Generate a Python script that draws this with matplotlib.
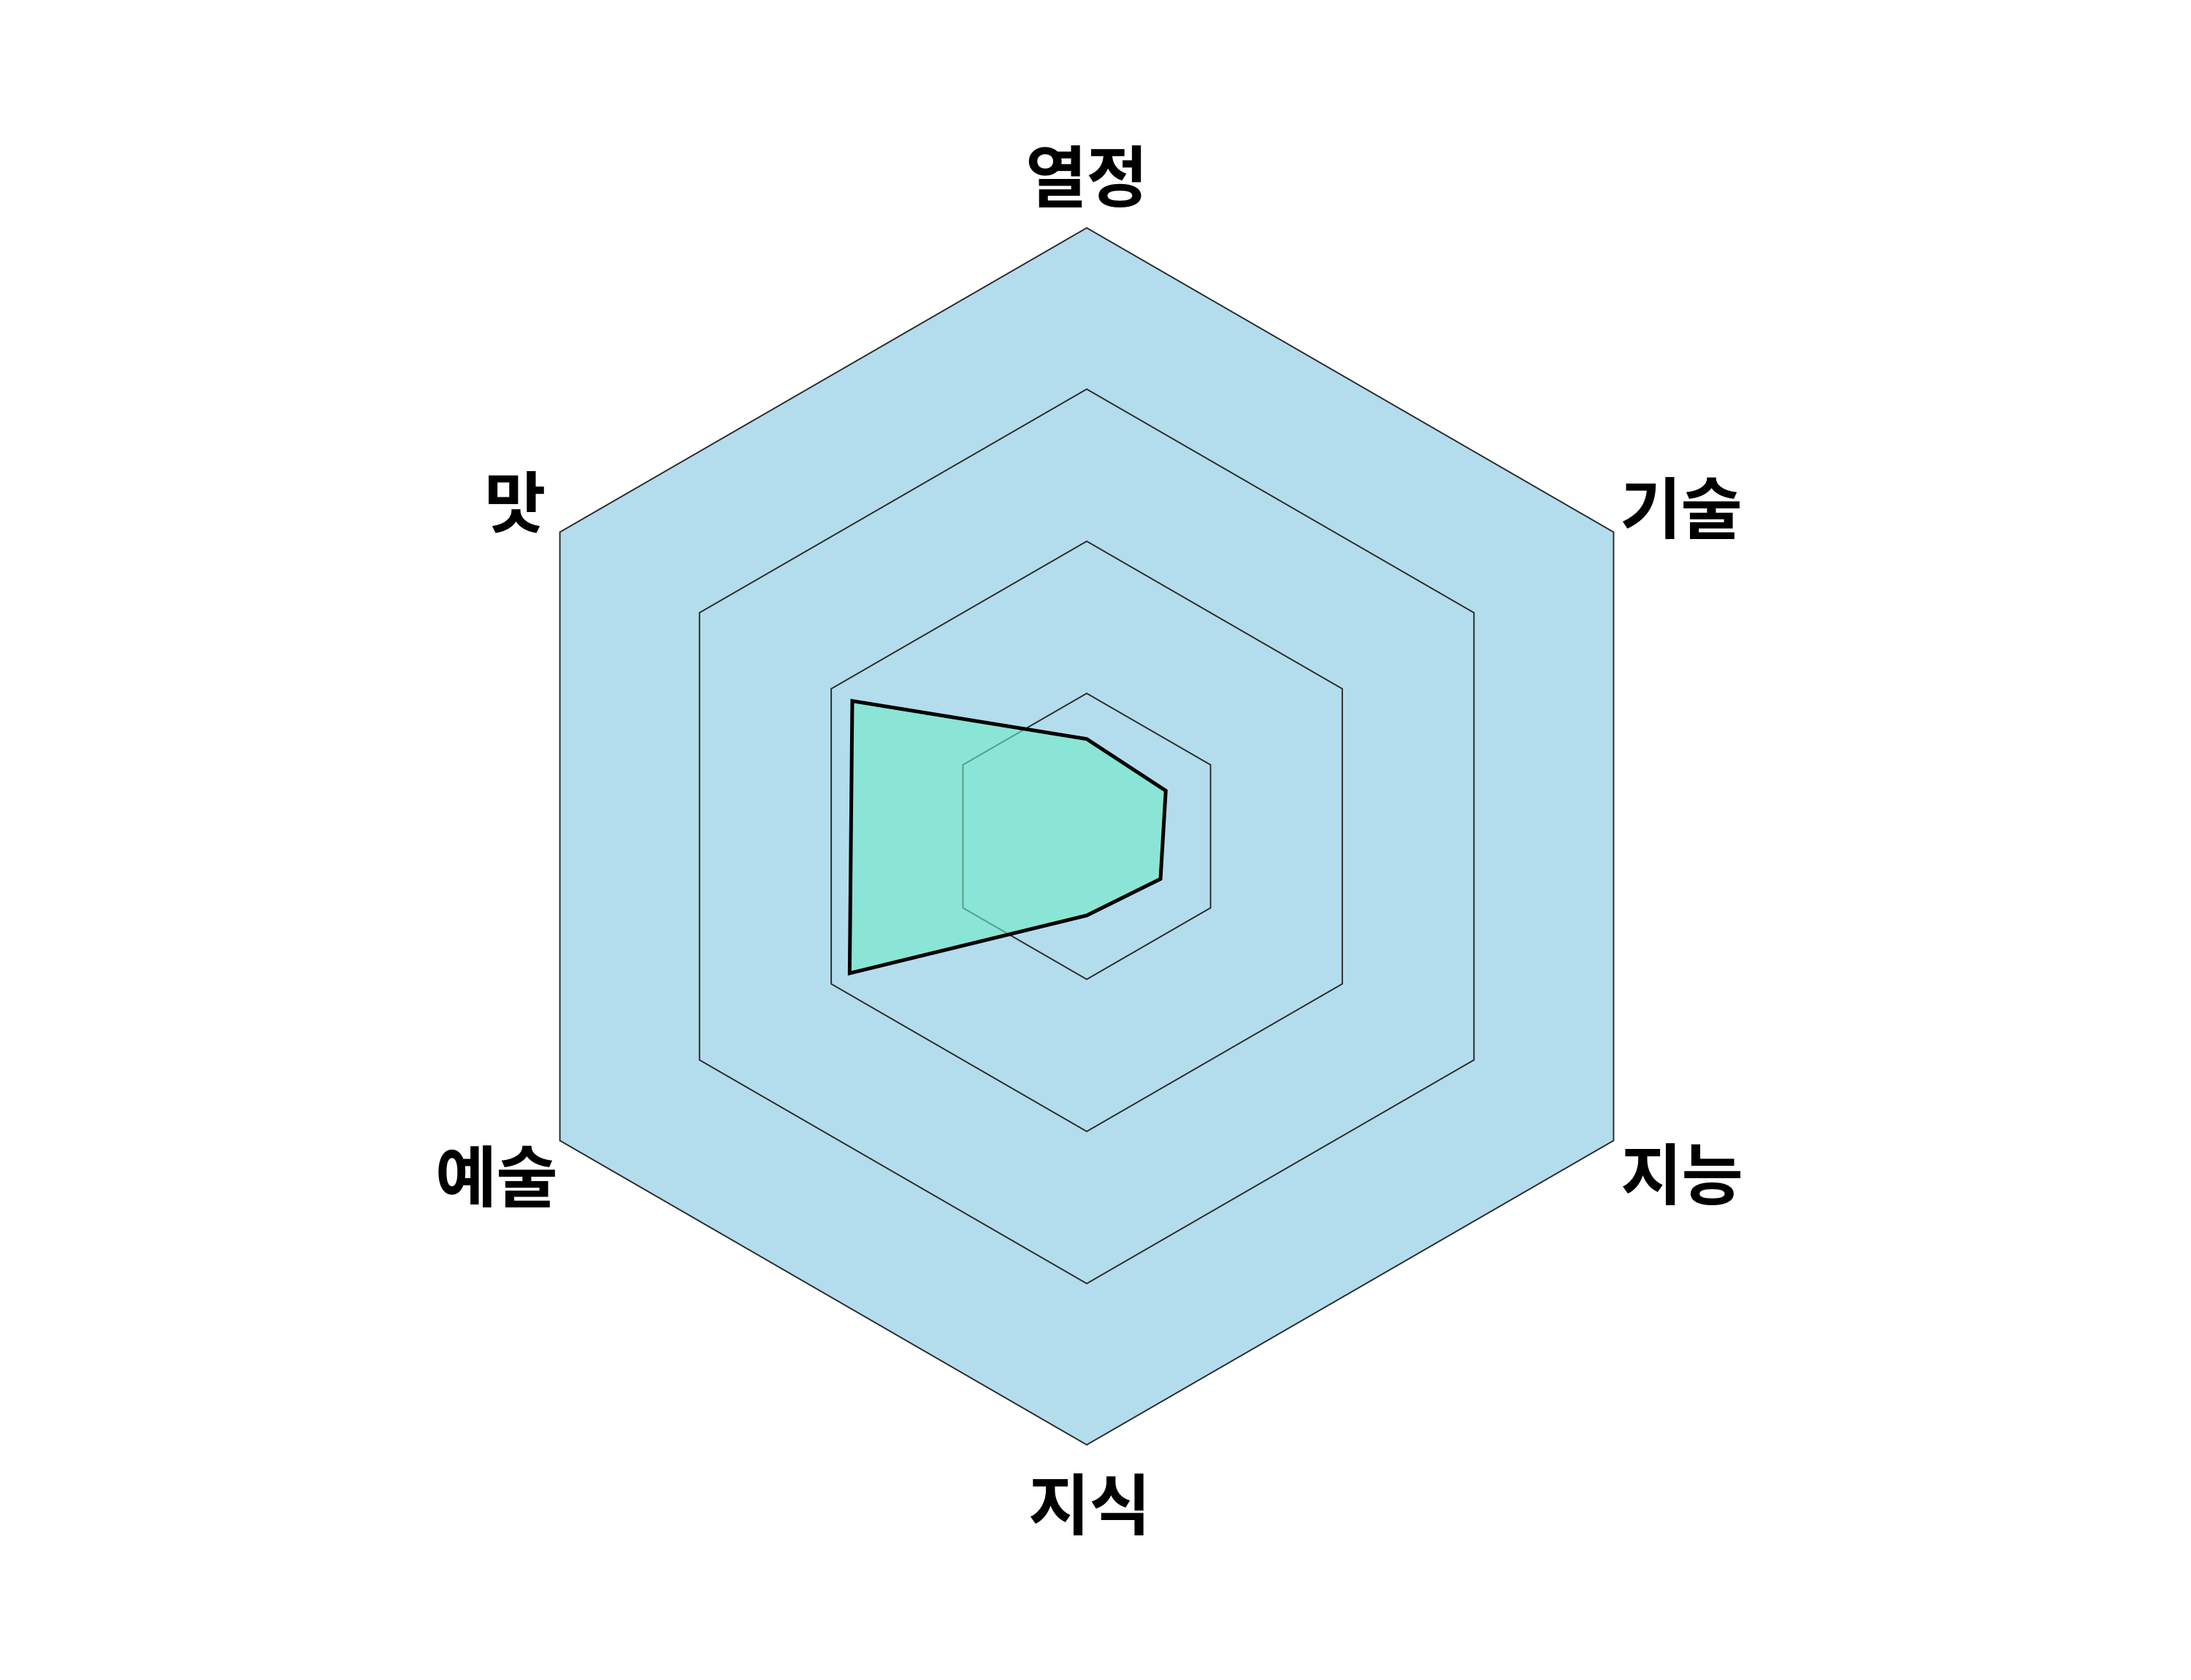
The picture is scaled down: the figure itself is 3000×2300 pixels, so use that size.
import numpy as np
import matplotlib.pyplot as plt
from matplotlib.patches import Polygon

# Radar data (clockwise from the top)
categories = ['열정', '기술', '지능', '지식', '예술', '맛']
values = [16, 15, 14, 13, 45, 44.5]
grid_levels = [23.5, 48.5, 73.5, 100]
max_value = 100

plt.rcParams['font.family'] = ['Noto Sans CJK KR', 'DejaVu Sans']

angles = np.arange(len(categories)) * 2 * np.pi / len(categories)


def hexagon(radii):
    r = np.asarray(radii, dtype=float)
    return np.column_stack([r * np.sin(angles), r * np.cos(angles)])


fig = plt.figure(figsize=(15, 11.5), dpi=200)
ax = fig.add_axes([0, 0, 1, 1])

# outer ring ~833 px, chart centre at (1488, 1145) px from top-left
scale = 833 / max_value
ax.set_xlim(-1488 / scale, (3000 - 1488) / scale)
ax.set_ylim(-(2300 - 1145) / scale, 1145 / scale)
ax.set_aspect('equal')
ax.axis('off')

# background + grid rings
ax.add_patch(Polygon(hexagon([max_value] * len(categories)), closed=True,
                     facecolor='#B3DDED', edgecolor='none', zorder=0))
for lvl in grid_levels:
    ax.add_patch(Polygon(hexagon([lvl] * len(categories)), closed=True,
                         facecolor='none', edgecolor='#2b2b2b', linewidth=0.7, zorder=1))

# data polygon
ax.add_patch(Polygon(hexagon(values), closed=True,
                     facecolor='#70ECC8', alpha=0.6, edgecolor='none', zorder=2))
ax.add_patch(Polygon(hexagon(values), closed=True,
                     facecolor='none', edgecolor='black', linewidth=1.8, zorder=3))

# axis labels
label_style = {
    '열정': (0, 63, 'center'),
    '기술': (8, 26, 'left'),
    '지능': (9, -54, 'left'),
    '지식': (3, -89, 'center'),
    '예술': (-2, -56, 'right'),
    '맛': (-19, 34, 'right'),
}
outer = hexagon([max_value] * len(categories))
for name, (x, y) in zip(categories, outer):
    dx, dy, ha = label_style[name]
    ax.annotate(name, (x, y), xytext=(dx, dy), textcoords='offset pixels',
                ha=ha, va='center', fontsize=33, fontweight='bold', color='black')

plt.savefig('out.png', dpi=200)
